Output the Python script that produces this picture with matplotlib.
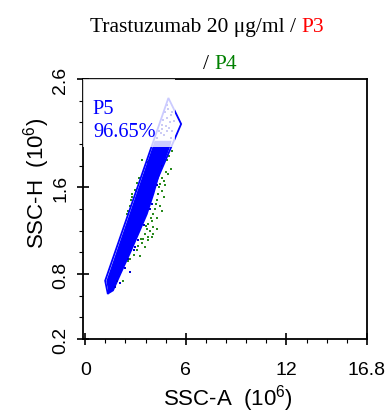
import matplotlib
matplotlib.use("Agg")
import matplotlib.pyplot as plt
import matplotlib.patches as patches
from matplotlib.ticker import MultipleLocator

plt.rcParams["mathtext.default"] = "regular"
sans = "Liberation Sans"
serif = "Liberation Serif"

# axis ticks
x_ticks = [0, 6, 12, 16.8]
x_tick_labels = ["0", "6", "12", "16.8"]
y_ticks = [0.2, 0.8, 1.6, 2.6]
y_tick_labels = ["0.2", "0.8", "1.6", "2.6"]

# P5 gate (SSC-A, SSC-H in 10^6)
gate_x = [4.96, 5.72, 1.35, 1.19]
gate_y = [2.425, 2.185, 0.615, 0.738]
gate_name = "P5"
gate_pct = "96.65%"

# outline of the dense blue (P5) event cloud
band_x = [1.40, 1.26, 4.14, 5.15, 5.05, 4.45, 4.12, 3.72, 3.22, 2.70, 2.15, 1.70]
band_y = [0.615, 0.735, 2.03, 2.03, 1.97, 1.72, 1.54, 1.35, 1.17, 0.985, 0.80, 0.643]

# sparse blue events near the top of the gate and outliers
blue_x = [4.75, 4.95, 5.10, 4.85, 4.65, 5.05, 5.30, 4.55, 4.90, 5.20,
          4.30, 4.50, 4.70, 4.90, 5.10, 4.60, 4.80, 5.00, 4.40, 5.20,
          3.17, 2.94, 2.58, 2.68, 1.89, 2.08, 1.79, 4.60, 4.00, 3.50,
          4.30, 3.85, 2.90, 2.40]
blue_y = [2.30, 2.32, 2.27, 2.24, 2.22, 2.20, 2.21, 2.18, 2.36, 2.30,
          2.06, 2.10, 2.08, 2.12, 2.06, 2.14, 2.17, 2.15, 2.12, 2.12,
          1.11, 1.05, 0.94, 0.82, 0.74, 0.72, 0.68, 1.80, 1.45, 1.25,
          1.62, 1.40, 1.02, 0.86]

# P4 events (green)
green_x = [5.20, 5.00, 4.86, 5.12, 4.80, 4.96, 4.67, 4.76, 4.47, 4.57,
           4.37, 4.67, 4.27, 4.47, 4.17, 4.57, 4.07, 4.27, 3.97, 3.77,
           4.07, 3.67, 3.87, 4.27, 3.57, 3.77, 3.47, 4.07, 3.38, 3.17,
           3.57, 3.08, 2.88, 3.28, 2.68, 2.28, 3.57, 3.38, 3.67, 2.98,
           2.74, 3.77, 3.97, 4.57, 4.40, 4.20, 3.90, 3.60, 3.30, 2.55,
           2.94, 2.82, 3.02, 2.74, 2.66, 2.58, 2.50, 2.78, 3.10, 3.23]
green_y = [1.94, 1.89, 1.85, 1.77, 1.74, 1.72, 1.66, 1.62, 1.63, 1.57,
           1.54, 1.51, 1.48, 1.43, 1.40, 1.38, 1.35, 1.32, 1.29, 1.26,
           1.23, 1.22, 1.20, 1.22, 1.17, 1.14, 1.12, 1.17, 1.09, 1.06,
           1.05, 1.02, 0.98, 0.97, 0.94, 0.74, 1.69, 1.85, 1.83, 1.14,
           1.02, 1.11, 1.14, 1.69, 1.60, 1.45, 1.32, 1.24, 1.12, 0.92,
           1.58, 1.54, 1.57, 1.48, 1.43, 1.38, 1.35, 1.51, 1.64, 1.69]

fig = plt.figure(figsize=(3.9, 4.14), dpi=100)
ax = fig.add_axes([0.212, 0.1787, 0.729, 0.628])

ax.scatter(green_x, green_y, s=3, marker="s", color="#2a8a1e", linewidths=0, zorder=2)
ax.fill(band_x, band_y, color="#0000ff", linewidth=0, zorder=3)
ax.scatter(blue_x, blue_y, s=3, marker="s", color="#0000d0", linewidths=0, zorder=3)
ax.fill(gate_x, gate_y, facecolor="none", edgecolor="#0000ff", linewidth=1.3, zorder=4)

# semi-transparent label box over the gate top
ax.add_patch(patches.Rectangle((0, 0.738), 0.325, 0.262, transform=ax.transAxes,
                               facecolor="white", alpha=0.8, linewidth=0, zorder=5))
ax.text(0.036, 0.923, gate_name + "\n" + gate_pct, transform=ax.transAxes,
        ha="left", va="top", color="#0000ff", fontsize=14.7, family=serif,
        linespacing=1.3, zorder=6)

ax.set_xlim(-0.15, 16.8)
ax.set_ylim(0.2, 2.6)
ax.set_xticks(x_ticks)
ax.set_xticklabels(x_tick_labels, family=sans, fontsize=14)
ax.set_yticks(y_ticks)
ax.set_yticklabels(y_tick_labels, family=sans, fontsize=14, rotation=90, va="center")
ax.xaxis.set_minor_locator(MultipleLocator(1.2))
ax.yaxis.set_minor_locator(MultipleLocator(0.2))
ax.tick_params(which="major", direction="inout", length=9, width=1.2, pad=11)
ax.tick_params(axis="y", which="major", pad=5)
ax.tick_params(which="minor", direction="out", length=3, width=0.8)
for sp in ax.spines.values():
    sp.set_linewidth(1.3)

ax.set_xlabel("SSC-A  (10$^{6}$)", family=sans, fontsize=16)
ax.set_ylabel("SSC-H  (10$^{6}$)", family=sans, fontsize=16)
ax.xaxis.set_label_coords(0.511, -0.165)
ax.yaxis.set_label_coords(-0.108, 0.604)

# two-line title with coloured population names
fig.canvas.draw()
renderer = fig.canvas.get_renderer()
inv = fig.transFigure.inverted()


def title_line(x, y, parts):
    for txt, col in parts:
        t = fig.text(x, y, txt, ha="left", va="baseline", color=col,
                     family=serif, fontsize=15.5)
        bb = t.get_window_extent(renderer)
        x = inv.transform((bb.x1, bb.y0))[0]


title_line(0.2308, 0.922, [("Trastuzumab 20 μg/ml / ", "black"), ("P3", "#ff0000")])
title_line(0.5205, 0.8333, [("/ ", "black"), ("P4", "#008000")])

fig.savefig("out.png", dpi=100)
